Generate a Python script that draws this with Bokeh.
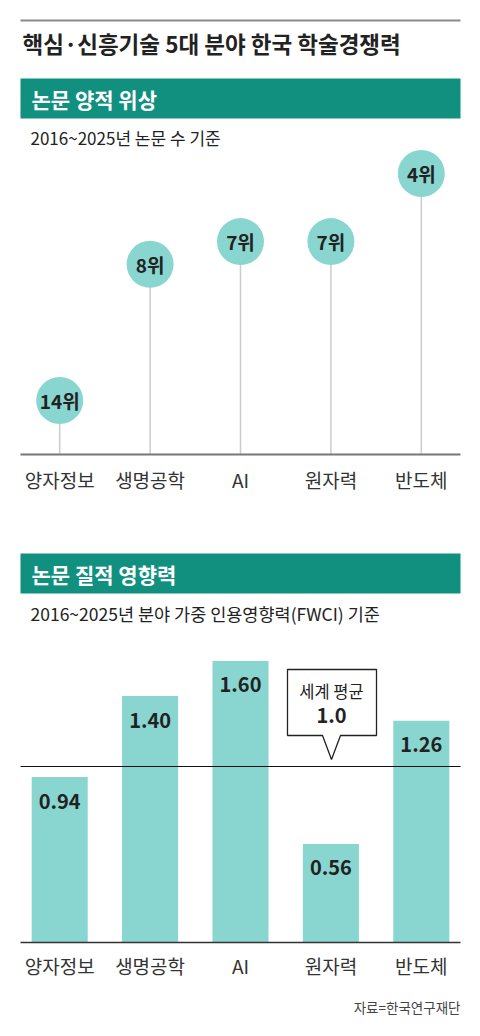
from bokeh.plotting import figure
from bokeh.models import Range1d
from bokeh.core.properties import value
from bokeh.embed import file_html
from bokeh.resources import INLINE

# ---------------- data ----------------
TITLE = "핵심·신흥기술 5대 분야 한국 학술경쟁력"
SECTION1 = "논문 양적 위상"
SUB1 = "2016~2025년 논문 수 기준"
SECTION2 = "논문 질적 영향력"
SUB2 = "2016~2025년 분야 가중 인용영향력(FWCI) 기준"
SOURCE = "자료=한국연구재단"
CALLOUT = "세계 평균"

fields = ["양자정보", "생명공학", "AI", "원자력", "반도체"]
ranks = [14, 8, 7, 7, 4]
fwci = [0.94, 1.40, 1.60, 0.56, 1.26]
world_avg = 1.0

# ---------------- layout ----------------
FONT = value("Noto Sans CJK KR")
W, H = 480, 1030
FL, FR = 14, 14
FW = W - FL - FR
PX0, PY0 = FL, 0          # page position of frame top-left

TEAL = "#11907f"
LIGHT = "#88d6cf"
INK = "#222222"

# category slots: field i occupies [i, i+1] on the x axis
xs = [i + 0.5 for i in range(len(fields))]


def px(x):
    return x - PX0


def py(y):
    return y - PY0


# rank scale: best rank's circle centre at page y 173, 22.7 px per rank step
best = min(ranks)


def rank_at(page_y):
    return best + (page_y - 173) / 22.7


rank_floor = rank_at(454)  # lollipop baseline


# fwci scale: zero at page y 942, 176 px per unit
def fwci_at(page_y):
    return (942 - page_y) / 176.0


p = figure(width=W, height=H, output_backend="svg", toolbar_location=None,
           x_range=Range1d(0, len(fields)),
           y_range=Range1d(H, 0),
           x_axis_location=None, y_axis_location=None,
           min_border_left=FL, min_border_right=FR,
           min_border_top=0, min_border_bottom=0,
           outline_line_color=None, background_fill_color="white",
           border_fill_color="white")
p.grid.visible = False
p.extra_x_ranges = {"px": Range1d(0, FW)}
p.extra_y_ranges = {
    "rank": Range1d(start=rank_at(PY0 + H), end=rank_at(PY0)),
    "fwci": Range1d(start=fwci_at(PY0 + H), end=fwci_at(PY0)),
}


def label(x, y, s, size, color=INK, bold=False, align="left"):
    p.text(x=[px(x)], y=[py(y)], text=[s], x_range_name="px",
           text_font=FONT, text_font_size=f"{size}px",
           text_font_style="bold" if bold else "normal",
           text_color=color, text_align=align, text_baseline="middle")


# ---- title block ----
p.segment(x0=[px(20)], y0=[py(20)], x1=[px(460)], y1=[py(20)],
          x_range_name="px", line_color="#8a8a8a", line_width=2)
label(22, 42, TITLE, 22.5, bold=True)

# ---- section 1 ----
p.quad(left=[px(20)], right=[px(460)], top=[py(78)], bottom=[py(118)],
       x_range_name="px", fill_color=TEAL, line_color=None)
label(31, 98, SECTION1, 21, color="white", bold=True)
label(30, 137, SUB1, 17)

p.segment(x0=xs, y0=[rank_floor] * len(fields), x1=xs, y1=ranks,
          y_range_name="rank", line_color="#cccccc", line_width=1.5)
p.segment(x0=[px(20)], y0=[py(454)], x1=[px(460)], y1=[py(454)],
          x_range_name="px", line_color="#777777", line_width=2)
p.scatter(x=xs, y=ranks, marker="circle", size=47, y_range_name="rank",
          fill_color=LIGHT, line_color=None)
p.text(x=xs, y=ranks, text=[f"{r}위" for r in ranks], y_range_name="rank",
       text_font=FONT, text_font_size="19px", text_font_style="bold",
       text_color=INK, text_align="center", text_baseline="middle")
p.text(x=xs, y=[py(479)] * len(fields), text=fields,
       text_font=FONT, text_font_size="19px", text_color="#333333",
       text_align="center", text_baseline="middle")

# ---- section 2 ----
p.quad(left=[px(20)], right=[px(460)], top=[py(553)], bottom=[py(593)],
       x_range_name="px", fill_color=TEAL, line_color=None)
label(31, 573, SECTION2, 21, color="white", bold=True)
label(30, 613, SUB2, 17.5)

p.vbar(x=xs, top=fwci, bottom=0, width=0.62, y_range_name="fwci",
       fill_color=LIGHT, line_color=None)
p.text(x=xs, y=fwci, text=[f"{v:.2f}" for v in fwci], y_range_name="fwci",
       y_offset=24, text_font=FONT, text_font_size="20px",
       text_font_style="bold", text_color=INK,
       text_align="center", text_baseline="middle")
p.segment(x0=[px(20)], y0=[world_avg], x1=[px(460)], y1=[world_avg],
          x_range_name="px", y_range_name="fwci",
          line_color="#111111", line_width=1.2)
p.segment(x0=[px(20)], y0=[0], x1=[px(460)], y1=[0],
          x_range_name="px", y_range_name="fwci",
          line_color="#333333", line_width=1.6)

# callout box
cx = [287, 376, 376, 340, 331, 322, 287]
cy = [669, 669, 735, 735, 759, 735, 735]
p.patch(x=[px(v) for v in cx], y=[py(v) for v in cy], x_range_name="px",
        fill_color="white", line_color="#222222", line_width=1.3)
label(331, 690, CALLOUT, 16.5, align="center")
label(331, 715, f"{world_avg:.1f}", 20, bold=True, align="center")

p.text(x=xs, y=[py(965)] * len(fields), text=fields,
       text_font=FONT, text_font_size="19px", text_color="#333333",
       text_align="center", text_baseline="middle")

label(460, 1006, SOURCE, 13.5, color="#444444", align="right")

open("out.html", "w").write(file_html(p, INLINE))
